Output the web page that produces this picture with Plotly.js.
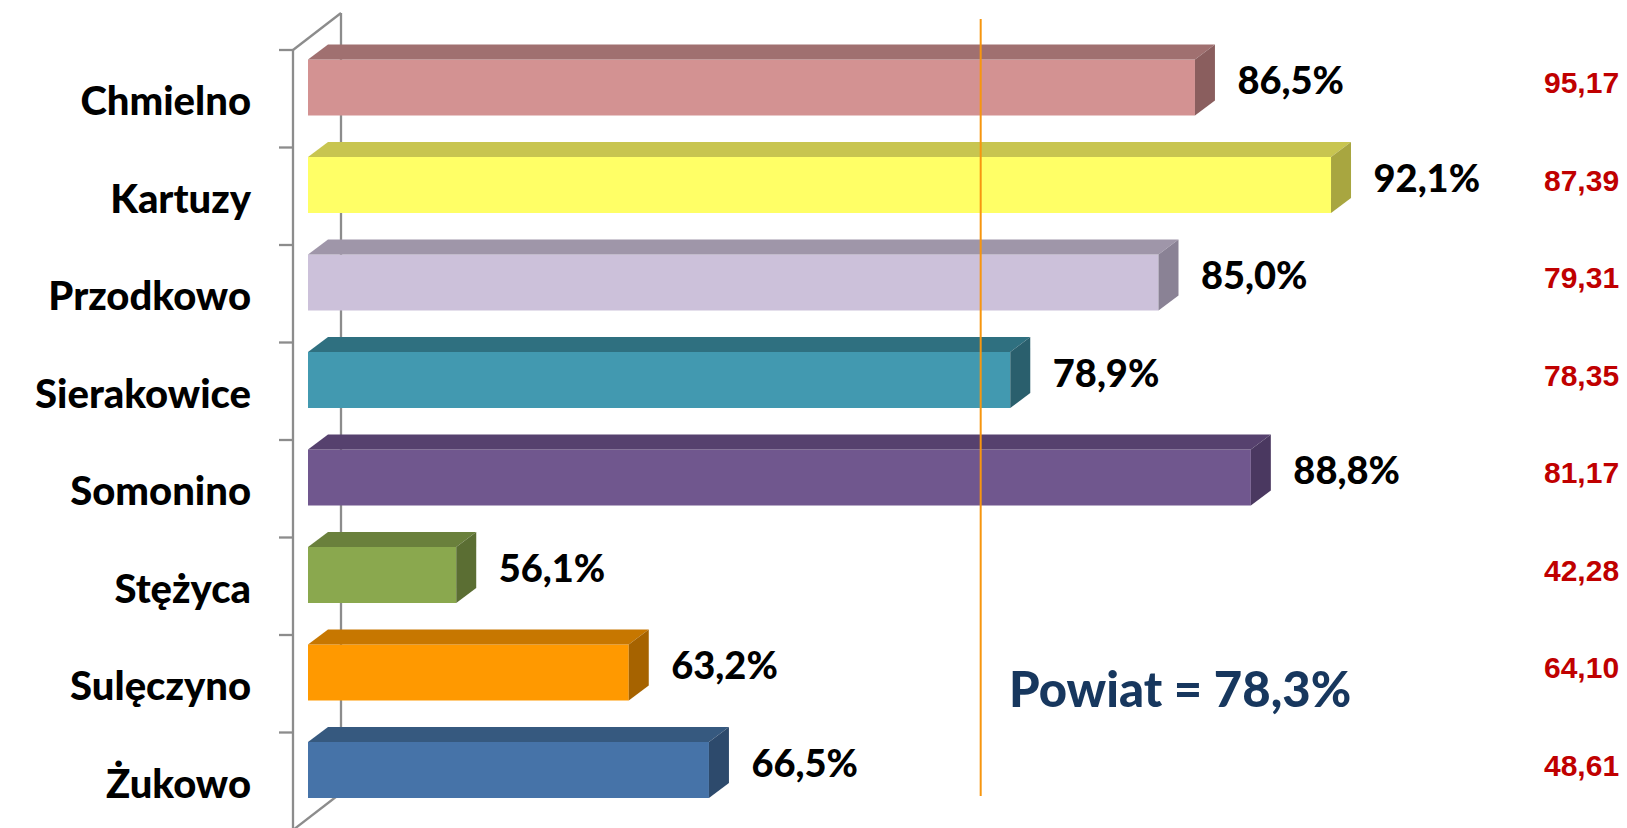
<!DOCTYPE html>
<html>
<head>
<meta charset="utf-8">
<script src="https://cdn.plot.ly/plotly-3.0.1.min.js"></script>
<style>html,body{margin:0;padding:0;background:#fff;}#chart{width:1627px;height:828px;}</style>
</head>
<body>
<div id="chart"></div>
<script>
// ---- data ----
const categories = ['Chmielno','Kartuzy','Przodkowo','Sierakowice','Somonino','Stężyca','Sulęczyno','Żukowo'];
const values = [86.5, 92.1, 85.0, 78.9, 88.8, 56.1, 63.2, 66.5];
const rightValues = [95.17, 87.39, 79.31, 78.35, 81.17, 42.28, 64.10, 48.61];
const powiat = 78.3;
const axisBase = 50;

// ---- styles ----
const frontColors = ['#D39292','#FFFF66','#CCC1DA','#4299B0','#70578E','#8AA84E','#FF9900','#4673A8'];
const topColors   = ['#A07070','#C8C550','#9F96A9','#2F7080','#56416E','#6A803C','#C77700','#36597F'];
const sideColors  = ['#8A5E5E','#A8A640','#8A8295','#2A5F6D','#4A3860','#5B6E33','#A66300','#2D4A6C'];

// ---- geometry (pixels -> data units) ----
const W = 1627, H = 828, L = 270;
const PX = 24.3, PY = 97.5, X0PX = 308, Y0PX = 87.5;
const xr = [axisBase - (X0PX - L) / PX, axisBase + (W - X0PX) / PX];
const yr = [(H - Y0PX) / PY, -Y0PX / PY];
const barW = 56 / PY, h = barW / 2;
const dX = 20 / PX, dY = 15 / PY;
const frontDepth = 15 / PX;   // offset from floor front edge to bar front faces
const idx = categories.map((c, i) => i);
const fmt = (v, d) => v.toFixed(d).replace('.', ',');

const traces = [];
traces.push({
  type: 'bar', orientation: 'h',
  y: idx, x: values.map(v => v - axisBase), base: axisBase,
  width: barW, marker: {color: frontColors, line: {width: 0}},
  hoverinfo: 'skip', showlegend: false
});
values.forEach((v, i) => {
  const t = i - h;
  traces.push({
    type: 'scatter', mode: 'lines', fill: 'toself', fillcolor: topColors[i],
    line: {width: 0}, hoverinfo: 'skip', showlegend: false,
    x: [axisBase, v, v + dX, axisBase + dX, axisBase],
    y: [t, t, t - dY, t - dY, t]
  });
  traces.push({
    type: 'scatter', mode: 'lines', fill: 'toself', fillcolor: sideColors[i],
    line: {width: 0}, hoverinfo: 'skip', showlegend: false,
    x: [v, v + dX, v + dX, v, v],
    y: [i - h, i - h - dY, i + h - dY, i + h, i - h]
  });
});
traces.push({
  type: 'scatter', mode: 'text',
  x: values.map(v => v + 1.75), y: idx.map(i => i - 0.03),
  text: values.map(v => fmt(v, 1) + '%'),
  textposition: 'middle right',
  textfont: {family: 'Lato', size: 38, color: '#000', weight: 900},
  cliponaxis: false, hoverinfo: 'skip', showlegend: false
});

// ---- frame ----
const lineStyle = {color: '#8C8C8C', width: 2.3};
const frontX = axisBase - frontDepth, backX = axisBase + 33 / PX;
const wallTop = (50 - Y0PX) / PY, wallBottom = wallTop + categories.length;
const depthY = 37 / PY;
const shapes = [
  {type: 'line', xref: 'x', yref: 'y', layer: 'below', x0: frontX, x1: frontX, y0: wallTop, y1: wallBottom, line: lineStyle},
  {type: 'line', xref: 'x', yref: 'y', layer: 'below', x0: backX, x1: backX, y0: wallTop - depthY, y1: wallBottom - depthY, line: lineStyle},
  {type: 'line', xref: 'x', yref: 'y', layer: 'below', x0: frontX, x1: backX, y0: wallTop, y1: wallTop - depthY, line: lineStyle},
  {type: 'line', xref: 'x', yref: 'y', layer: 'below', x0: frontX, x1: backX, y0: wallBottom, y1: wallBottom - depthY, line: lineStyle}
];
idx.forEach(i => {
  shapes.push({type: 'line', xref: 'x', yref: 'y', layer: 'below',
    x0: axisBase - 29 / PX, x1: frontX, y0: wallTop + i, y1: wallTop + i, line: lineStyle});
});
// Powiat reference line, drawn on the floor's front edge plane
shapes.push({type: 'line', xref: 'x', yref: 'y', layer: 'above',
  x0: powiat - frontDepth, x1: powiat - frontDepth, y0: (19 - Y0PX) / PY, y1: (796 - Y0PX) / PY,
  line: {color: '#F7960F', width: 2}});

const annotations = rightValues.map((v, i) => ({
  xref: 'paper', yref: 'y', x: (1621 - L) / (W - L), y: i - 0.05,
  xanchor: 'right', yanchor: 'middle', showarrow: false,
  text: fmt(v, 2),
  font: {family: 'Liberation Sans, Arial', size: 30, color: '#C00000', weight: 'bold'}
}));
annotations.push({
  xref: 'paper', yref: 'paper', x: (1180 - L) / (W - L), y: 1 - 688 / H,
  xanchor: 'center', yanchor: 'middle', showarrow: false,
  text: 'Powiat = ' + fmt(powiat, 1) + '%',
  font: {family: 'Lato', size: 49, color: '#17375E', weight: 900}
});

const layout = {
  width: W, height: H,
  margin: {l: L, r: 0, t: 0, b: 0, pad: 0},
  paper_bgcolor: '#fff', plot_bgcolor: '#fff',
  showlegend: false, barmode: 'overlay',
  xaxis: {range: xr, visible: false, fixedrange: true},
  yaxis: {range: yr, tickmode: 'array', tickvals: idx.map(i => i + 0.14), ticktext: categories,
    showgrid: false, zeroline: false, showline: false, ticks: '', automargin: false,
    ticklabelstandoff: 18,
    tickfont: {family: 'Lato', size: 40, color: '#000', weight: 900}, fixedrange: true},
  shapes: shapes, annotations: annotations
};

Plotly.newPlot('chart', traces, layout, {displayModeBar: false, staticPlot: true});
</script>
</body>
</html>
